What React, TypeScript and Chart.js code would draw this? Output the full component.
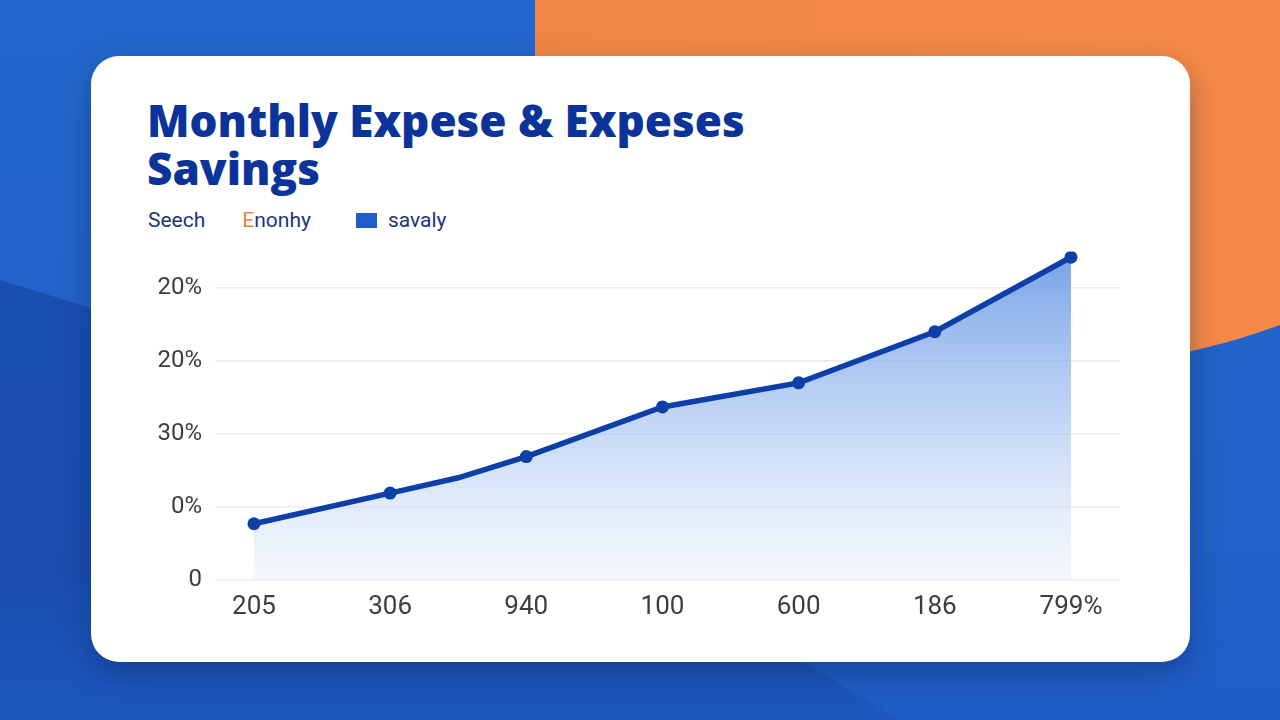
import React, { useEffect, useRef } from "react";
import { Chart, registerables } from "chart.js";

Chart.register(...registerables);

const titleText = "Monthly Expese & Expeses Savings";
const legendItems = ["Seech", "Enonhy", "savaly"];
const xTickLabels = ["205", "306", "940", "100", "600", "186", "799%"];
const yTickLabels = ["0", "0%", "30%", "20%", "20%"];
const xPositions = [0, 1, 1.5, 2, 3, 4, 5, 6];
const savingsValues = [0.77, 1.19, 1.4, 1.69, 2.37, 2.7, 3.4, 4.42];
const pointSizes = [6.5, 6.5, 0, 6.5, 6.5, 6.5, 6.5, 6.5];

export default function App() {
  const canvasRef = useRef<HTMLCanvasElement | null>(null);

  useEffect(() => {
    if (!canvasRef.current) return;
    const chart = new Chart(canvasRef.current, {
      type: "line",
      data: {
        datasets: [
          {
            label: legendItems[2],
            data: xPositions.map((x, i) => ({ x, y: savingsValues[i] })),
            borderColor: "#0e3fa8",
            borderWidth: 5.5,
            pointRadius: pointSizes,
            pointBackgroundColor: "#0e3fa8",
            pointBorderColor: "#0e3fa8",
            pointBorderWidth: 0,
            tension: 0,
            fill: "origin",
            backgroundColor: (ctx: any) => {
              const area = ctx.chart.chartArea;
              if (!area) return "rgba(100,150,230,0.5)";
              const g = ctx.chart.ctx.createLinearGradient(0, area.top, 0, area.bottom);
              g.addColorStop(0, "rgba(104,152,228,0.9)");
              g.addColorStop(0.5, "rgba(150,185,238,0.6)");
              g.addColorStop(1, "rgba(225,235,250,0.35)");
              return g;
            },
          },
        ],
      },
      options: {
        animation: false,
        responsive: false,
        maintainAspectRatio: false,
        layout: { padding: { top: 8, right: 10, left: 0, bottom: 0 } },
        plugins: { legend: { display: false }, tooltip: { enabled: false } },
        scales: {
          x: {
            type: "linear",
            min: -0.286,
            max: 6.36,
            afterBuildTicks: (scale: any) => {
              scale.ticks = xTickLabels.map((_, i) => ({ value: i }));
            },
            afterFit: (scale: any) => {
              scale.height = 50;
            },
            grid: { display: false, drawTicks: false },
            border: { display: false },
            ticks: {
              padding: 12,
              color: "#3d3d3d",
              font: { family: "Roboto", size: 26 },
              maxRotation: 0,
              autoSkip: false,
              callback: (v: any) => xTickLabels[Math.round(Number(v))] ?? "",
            },
          },
          y: {
            min: 0,
            max: 4.5,
            afterBuildTicks: (scale: any) => {
              scale.ticks = yTickLabels.map((_, i) => ({ value: i }));
            },
            afterFit: (scale: any) => {
              scale.width = 85;
            },
            grid: { color: "#ececec", lineWidth: 1.5, drawTicks: false },
            border: { display: false },
            ticks: {
              padding: 13,
              color: "#3d3d3d",
              font: { family: "Roboto", size: 24 },
              callback: (v: any) => yTickLabels[Math.round(Number(v))] ?? "",
            },
          },
        },
      },
    });
    return () => chart.destroy();
  }, []);

  return (
    <div
      style={{
        position: "fixed",
        left: 0,
        top: 0,
        width: 1280,
        height: 720,
        overflow: "hidden",
        background: "linear-gradient(180deg, #2467cc 0%, #2162c8 60%, #1f5dc6 100%)",
      }}
    >
      <div
        style={{
          position: "absolute",
          left: 0,
          top: 0,
          width: 1280,
          height: 720,
          background: "linear-gradient(180deg, #1a4eb0 40%, #1a4dae 80%, #1d58bf 100%)",
          clipPath: "polygon(0px 280px, 91px 308px, 400px 420px, 900px 720px, 0px 720px)",
        }}
      />
      <div
        style={{
          position: "absolute",
          left: 535,
          top: -300,
          width: 845,
          height: 692,
          background: "linear-gradient(90deg, #f08645 0%, #f68a48 100%)",
          borderBottomLeftRadius: "245px 337px",
          borderBottomRightRadius: "600px 150px",
        }}
      />
      <div
        style={{
          position: "absolute",
          left: 91,
          top: 56,
          width: 1099,
          height: 606,
          background: "#ffffff",
          borderRadius: 28,
          boxShadow: "0 12px 30px rgba(10,30,80,0.35)",
        }}
      />
      <div
        style={{
          position: "absolute",
          left: 147,
          top: 96,
          width: 700,
          fontFamily: "'Open Sans', sans-serif",
          fontWeight: 800,
          fontSize: 44,
          lineHeight: "48px",
          color: "#0b339a",
          letterSpacing: 0,
        }}
      >
        {titleText}
      </div>
      <div
        style={{
          position: "absolute",
          left: 148,
          top: 208,
          fontFamily: "Roboto, sans-serif",
          fontSize: 21,
          color: "#1c3479",
          display: "flex",
          alignItems: "center",
          whiteSpace: "nowrap",
        }}
      >
        <span>{legendItems[0]}</span>
        <span style={{ marginLeft: 37 }}>
          <span style={{ color: "#e8823f" }}>{legendItems[1].charAt(0)}</span>
          {legendItems[1].slice(1)}
        </span>
        <span
          style={{
            display: "inline-block",
            width: 21,
            height: 15,
            background: "#1f5ccc",
            marginLeft: 45,
            marginRight: 11,
          }}
        />
        <span>{legendItems[2]}</span>
      </div>
      <canvas
        ref={canvasRef}
        width={1000}
        height={406}
        style={{ position: "absolute", left: 130, top: 224, width: 1000, height: 406 }}
      />
    </div>
  );
}
